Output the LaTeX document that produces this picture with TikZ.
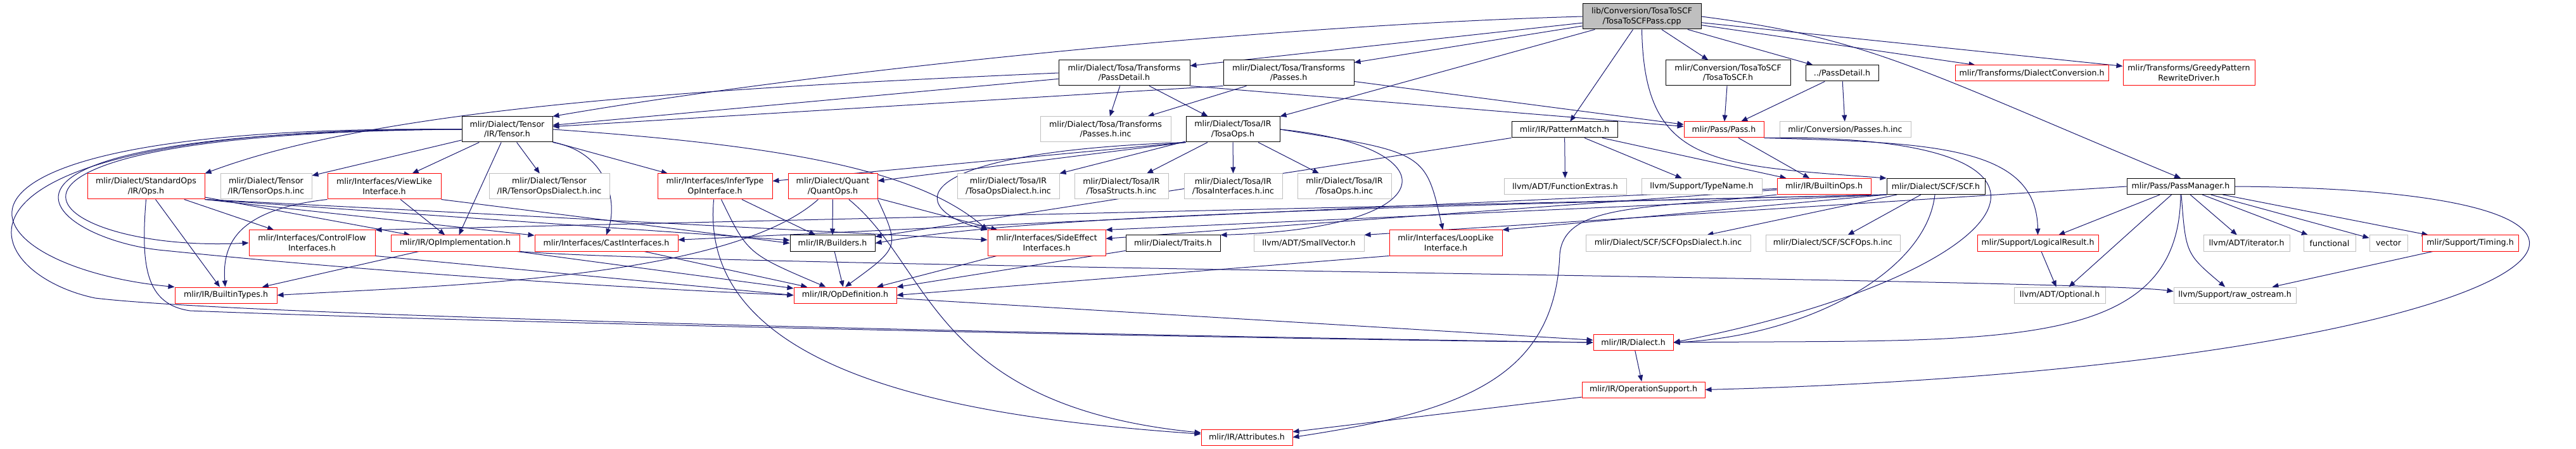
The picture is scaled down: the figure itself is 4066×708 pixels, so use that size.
\documentclass[tikz,border=0pt]{standalone}
\usepackage{fontspec}
\setmainfont{DejaVu Sans}
\usepackage{xcolor}
\usepackage{tikz}
\usetikzlibrary{arrows.meta, backgrounds}

\definecolor{depblue}{RGB}{25,25,112}
\newcommand{\doxfont}{\fontsize{12.6}{15.5}\selectfont}

\begin{document}
\begin{tikzpicture}[
    x=1pt, y=-1pt,
    file/.style={draw=black, fill=white, line width=1pt, inner sep=0pt, align=center, font=\doxfont, minimum height=25},
    tall/.style={minimum height=40},
    redfile/.style={file, draw=red},
    extfile/.style={file, draw=gray!50},
    srcfile/.style={file, fill=gray!50},
    dep/.style={draw=depblue, line width=1pt, -{Triangle[length=10pt, width=8pt]}}
]
\useasboundingbox (0,0) rectangle (4066,708);

% Top: the source file
\node[srcfile, tall, minimum width=187] (main) at (2591.5,26) {lib/Conversion/TosaToSCF\\/TosaToSCFPass.cpp};

% Row 1
\node[file, tall, minimum width=207] (tpd) at (1774.5,115) {mlir/Dialect/Tosa/Transforms\\/PassDetail.h};
\node[file, tall, minimum width=206] (tpasses) at (2034,115) {mlir/Dialect/Tosa/Transforms\\/Passes.h};
\node[file, tall, minimum width=197] (t2s) at (2727.5,115) {mlir/Conversion/TosaToSCF\\/TosaToSCF.h};
\node[file, minimum width=115] (pd) at (2907.5,115.5) {../PassDetail.h};
\node[redfile, minimum width=242] (dconv) at (3207,115.5) {mlir/Transforms/DialectConversion.h};
\node[redfile, tall, minimum width=208] (greedy) at (3455,115) {mlir/Transforms/GreedyPattern\\RewriteDriver.h};

% Row 2
\node[file, tall, minimum width=143] (tensor) at (800.5,204) {mlir/Dialect/Tensor\\/IR/Tensor.h};
\node[extfile, tall, minimum width=206] (pinc) at (1745,204) {mlir/Dialect/Tosa/Transforms\\/Passes.h.inc};
\node[file, tall, minimum width=148] (tosaops) at (1946,204) {mlir/Dialect/Tosa/IR\\/TosaOps.h};
\node[file, minimum width=167] (pmatch) at (2469.5,204.5) {mlir/IR/PatternMatch.h};
\node[redfile, minimum width=126] (pass) at (2721,204.5) {mlir/Pass/Pass.h};
\node[extfile, minimum width=207] (cpinc) at (2912.5,204.5) {mlir/Conversion/Passes.h.inc};

% Row 3
\node[redfile, tall, minimum width=185] (std) at (230.5,294) {mlir/Dialect/StandardOps\\/IR/Ops.h};
\node[extfile, tall, minimum width=144] (tinc) at (420,294) {mlir/Dialect/Tensor\\/IR/TensorOps.h.inc};
\node[redfile, tall, minimum width=179] (viewlike) at (606.5,294) {mlir/Interfaces/ViewLike\\Interface.h};
\node[extfile, tall, minimum width=190] (tdinc) at (867,294) {mlir/Dialect/Tensor\\/IR/TensorOpsDialect.h.inc};
\node[redfile, tall, minimum width=181] (infer) at (1128.5,294) {mlir/Interfaces/InferType\\OpInterface.h};
\node[redfile, tall, minimum width=141] (quant) at (1314.5,294) {mlir/Dialect/Quant\\/QuantOps.h};
\node[extfile, tall, minimum width=161] (todinc) at (1591.5,294) {mlir/Dialect/Tosa/IR\\/TosaOpsDialect.h.inc};
\node[extfile, tall, minimum width=148] (tsinc) at (1770,294) {mlir/Dialect/Tosa/IR\\/TosaStructs.h.inc};
\node[extfile, tall, minimum width=155] (tiinc) at (1946.5,294) {mlir/Dialect/Tosa/IR\\/TosaInterfaces.h.inc};
\node[extfile, tall, minimum width=148] (toinc) at (2122,294) {mlir/Dialect/Tosa/IR\\/TosaOps.h.inc};
\node[extfile, minimum width=193] (fextra) at (2470.5,294) {llvm/ADT/FunctionExtras.h};
\node[extfile, minimum width=190] (tname) at (2686,294) {llvm/Support/TypeName.h};
\node[redfile, minimum width=148] (bops) at (2879,294) {mlir/IR/BuiltinOps.h};
\node[file, minimum width=155] (scf) at (3055.5,294) {mlir/Dialect/SCF/SCF.h};
\node[file, minimum width=170] (pm) at (3442,294) {mlir/Pass/PassManager.h};

% Row 4
\node[redfile, tall, minimum width=199] (cflow) at (492.5,383) {mlir/Interfaces/ControlFlow\\Interfaces.h};
\node[redfile, minimum width=203] (opimpl) at (718.5,383.5) {mlir/IR/OpImplementation.h};
\node[redfile, minimum width=226] (cast) at (957,383.5) {mlir/Interfaces/CastInterfaces.h};
\node[file, minimum width=134] (builders) at (1314,383.5) {mlir/IR/Builders.h};
\node[redfile, tall, minimum width=186] (sideeff) at (1652,383) {mlir/Interfaces/SideEffect\\Interfaces.h};
\node[file, minimum width=149] (traits) at (1851.5,383.5) {mlir/Dialect/Traits.h};
\node[extfile, minimum width=174] (svec) at (2066,383.5) {llvm/ADT/SmallVector.h};
\node[redfile, tall, minimum width=178] (looplike) at (2282,383) {mlir/Interfaces/LoopLike\\Interface.h};
\node[extfile, minimum width=260] (scfdinc) at (2633,383.5) {mlir/Dialect/SCF/SCFOpsDialect.h.inc};
\node[extfile, minimum width=212] (scfinc) at (2893,383.5) {mlir/Dialect/SCF/SCFOps.h.inc};
\node[redfile, minimum width=191] (logres) at (3216.5,383.5) {mlir/Support/LogicalResult.h};
\node[extfile, minimum width=136] (iter) at (3546,383.5) {llvm/ADT/iterator.h};
\node[extfile, minimum width=82] (functional) at (3677,383.5) {functional};
\node[extfile, minimum width=60] (vector) at (3770,383.5) {vector};
\node[redfile, minimum width=152] (timing) at (3899,383.5) {mlir/Support/Timing.h};

% Lower rows
\node[redfile, minimum width=161] (btypes) at (356.5,465.5) {mlir/IR/BuiltinTypes.h};
\node[redfile, minimum width=162] (opdef) at (1334,465.5) {mlir/IR/OpDefinition.h};
\node[extfile, minimum width=144] (optional) at (3251,465.5) {llvm/ADT/Optional.h};
\node[extfile, minimum width=193] (raw) at (3527.5,465.5) {llvm/Support/raw\_ostream.h};
\node[redfile, minimum width=126] (dialect) at (2578,540) {mlir/IR/Dialect.h};
\node[redfile, minimum width=194] (opsupp) at (2594,614.5) {mlir/IR/OperationSupport.h};
\node[redfile, minimum width=144] (attrs) at (1968,689.5) {mlir/IR/Attributes.h};

\begin{pgfonlayer}{background}
% Source file includes
\draw[dep] (main.west) .. controls (2000,40) and (1300,110) .. (tensor.north east);
\draw[dep] (main) -- (tpd);
\draw[dep] (main) -- (tpasses);
\draw[dep] (main) -- (tosaops);
\draw[dep] (main) -- (pmatch);
\draw[dep] (main.south) .. controls (2595,260) and (2700,260) .. (scf.north west);
\draw[dep] (main) -- (t2s);
\draw[dep] (main) -- (pd);
\draw[dep] (main) -- (dconv);
\draw[dep] (main) -- (greedy);
\draw[dep] (main.east) .. controls (2950,60) and (3030,110) .. (pm.north);

% Row 1
\draw[dep] (tpd.west) .. controls (1100,140) and (600,170) .. (std.north east);
\draw[dep] (tpd) -- (tensor);
\draw[dep] (tpd) -- (pinc);
\draw[dep] (tpd) -- (tosaops);
\draw[dep] (tpd.south east) -- (pass);
\draw[dep] (tpasses.south west) -- (tensor);
\draw[dep] (tpasses) -- (pinc);
\draw[dep] (tpasses) -- (pass);
\draw[dep] (t2s) -- (pass);
\draw[dep] (pd) -- (pass);
\draw[dep] (pd) -- (cpinc);

% Tensor
\draw[dep] (tensor) -- (tinc);
\draw[dep] (tensor) -- (viewlike);
\draw[dep] (tensor) -- (tdinc);
\draw[dep] (tensor) -- (opimpl);
\draw[dep] (tensor) -- (infer);
\draw[dep] (tensor.south east) .. controls (960,240) and (975,320) .. (cast.north);
\draw[dep] (tensor.east) .. controls (1250,230) and (1450,270) .. (sideeff.north west);
\draw[dep] (tensor.west) .. controls (-200,195) and (-60,420) .. (btypes.north west);
\draw[dep] (tensor.west) .. controls (-150,210) and (60,400) .. (cflow.west);
\draw[dep] (tensor.west) .. controls (-150,207) and (80,380) .. (260,395) .. controls (600,430) and (1000,455) .. (opdef.west);
\draw[dep] (tensor.west) .. controls (-150,200) and (-40,430) .. (150,470) .. controls (400,500) and (1800,530) .. (dialect.west);

% Tosa ops
\draw[dep] (tosaops.south west) -- (infer);
\draw[dep] (tosaops.south west) -- (quant);
\draw[dep] (tosaops) -- (todinc);
\draw[dep] (tosaops) -- (tsinc);
\draw[dep] (tosaops) -- (tiinc);
\draw[dep] (tosaops) -- (toinc);
\draw[dep] (tosaops.south west) .. controls (1420,240) and (1430,330) .. (sideeff.north west);
\draw[dep] (tosaops.east) .. controls (2250,240) .. (looplike);
\draw[dep] (tosaops.east) .. controls (2290,230) and (2290,360) .. (traits.north east);

% Pattern match, pass, SCF
\draw[dep] (pmatch) -- (fextra);
\draw[dep] (pmatch) -- (tname);
\draw[dep] (pmatch) -- (bops);
\draw[dep] (pmatch) -- (builders);
\draw[dep] (pass) -- (bops);
\draw[dep] (pass.south east) .. controls (3050,225) and (3215,230) .. (logres.north);
\draw[dep] (pass.south east) .. controls (3350,210) and (3200,430) .. (dialect.east);
\draw[dep] (scf) -- (scfdinc);
\draw[dep] (scf) -- (scfinc);
\draw[dep] (scf.south west) .. controls (2000,330) and (1600,345) .. (builders.east);
\draw[dep] (scf.south west) -- (cflow.north east);
\draw[dep] (scf.south west) -- (looplike.north east);
\draw[dep] (scf.south west) -- (sideeff.north east);
\draw[dep] (scf) .. controls (3040,430) and (2850,530) .. (dialect.east);
\draw[dep] (bops) -- (cast);
\draw[dep] (bops) -- (sideeff);
\draw[dep] (bops.south west) .. controls (2600,330) and (2470,320) .. (2462,400) .. controls (2455,600) and (2300,650) .. (attrs.east);

% Pass manager
\draw[dep] (pm) -- (logres);
\draw[dep] (pm) -- (optional);
\draw[dep] (pm) .. controls (3450,400) .. (raw);
\draw[dep] (pm) -- (iter);
\draw[dep] (pm) -- (functional);
\draw[dep] (pm) -- (vector);
\draw[dep] (pm) -- (timing);
\draw[dep] (pm.west) -- (svec.north east);
\draw[dep] (pm) .. controls (3440,560) and (3150,535) .. (dialect.east);
\draw[dep] (pm.east) .. controls (4400,300) and (4000,580) .. (opsupp.east);
\draw[dep] (logres) -- (optional);
\draw[dep] (timing) -- (raw);

% Standard ops and interfaces
\draw[dep] (std) -- (btypes);
\draw[dep] (std) -- (cflow);
\draw[dep] (std) -- (opimpl);
\draw[dep] (std.south east) -- (cast);
\draw[dep] (std.south east) -- (builders);
\draw[dep] (std.south east) -- (sideeff);
\draw[dep] (std.south) .. controls (222,420) and (230,480) .. (300,490) .. controls (800,510) and (2000,535) .. (dialect.west);
\draw[dep] (viewlike) -- (opimpl);
\draw[dep] (viewlike.south west) .. controls (380,330) and (350,380) .. (btypes);
\draw[dep] (viewlike.south east) -- (builders.west);
\draw[dep] (infer) -- (builders);
\draw[dep] (infer) .. controls (1180,400) .. (opdef);
\draw[dep] (infer) .. controls (1100,600) and (1550,660) .. (attrs);
\draw[dep] (quant) .. controls (1150,440) and (700,450) .. (btypes.east);
\draw[dep] (quant) -- (builders);
\draw[dep] (quant.south east) .. controls (1420,390) .. (opdef.north);
\draw[dep] (quant) .. controls (1470,420) and (1470,640) .. (attrs);
\draw[dep] (quant) -- (sideeff);

% IR core
\draw[dep] (opimpl) -- (btypes);
\draw[dep] (opimpl) -- (opdef);
\draw[dep] (opimpl.south east) .. controls (1100,420) and (3300,440) .. ([yshift=6pt]raw.west);
\draw[dep] (cflow.south east) -- (opdef.west);
\draw[dep] (cast) -- (opdef);
\draw[dep] (builders) -- (opdef);
\draw[dep] (sideeff) -- (opdef);
\draw[dep] (traits) -- (opdef);
\draw[dep] (looplike.south west) -- (opdef.east);
\draw[dep] (opdef) -- (dialect);
\draw[dep] (dialect) -- (opsupp);
\draw[dep] (opsupp) -- (attrs);
\end{pgfonlayer}

\end{tikzpicture}
\end{document}
